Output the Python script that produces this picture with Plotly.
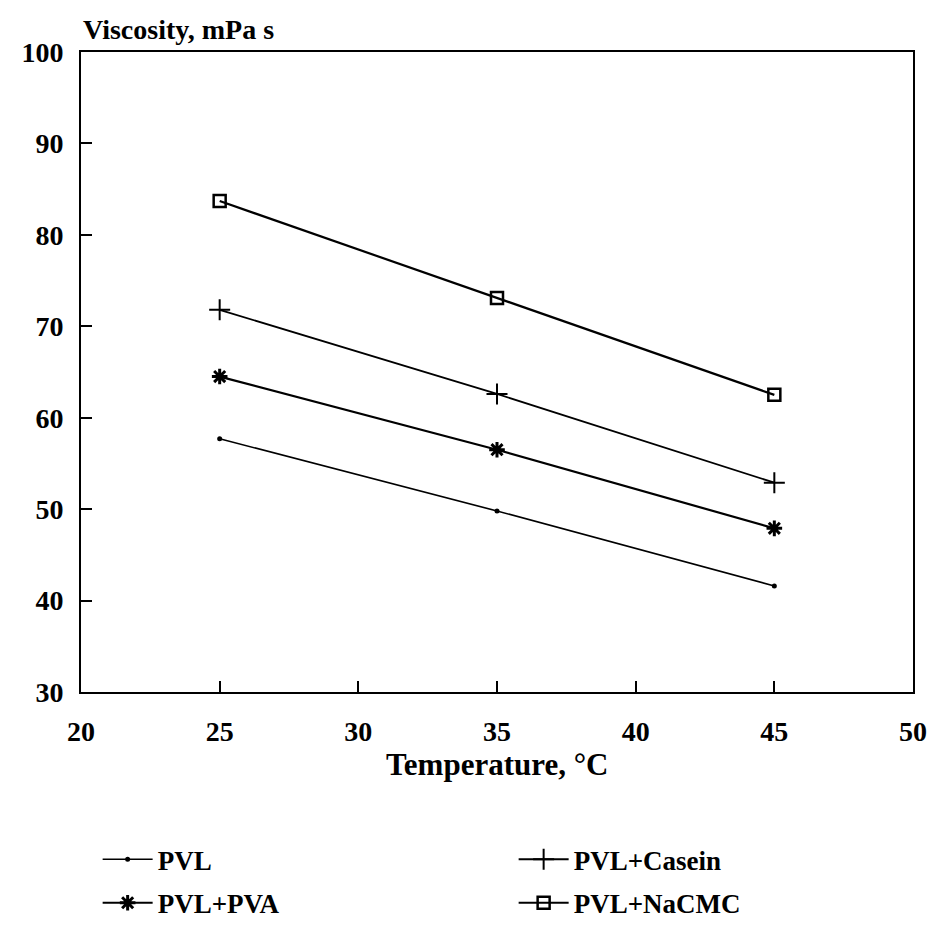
import plotly.graph_objects as go

# temperatures, deg C
temperature = [25, 35, 45]

# viscosity, mPa s
pvl = [57.7, 49.8, 41.6]
pvl_casein = [71.8, 62.6, 52.9]
pvl_pva = [64.5, 56.5, 47.9]
pvl_nacmc = [83.7, 73.1, 62.5]

x_ticks = [20, 25, 30, 35, 40, 45, 50]
y_ticks = [30, 40, 50, 60, 70, 80, 90, 100]

FONT = 'Liberation Serif'
ink = 'black'

trace1 = go.Scatter(x=temperature, y=pvl, name='PVL', mode='lines+markers',
                    line={'color': ink, 'width': 1.6},
                    marker={'symbol': 'circle', 'size': 5, 'color': ink},
                    legend='legend')

trace2 = go.Scatter(x=temperature, y=pvl_casein, name='PVL+Casein', mode='lines+markers',
                    line={'color': ink, 'width': 1.8},
                    marker={'symbol': 'cross-thin', 'size': 15, 'color': ink,
                            'line': {'color': ink, 'width': 2}},
                    legend='legend')

trace3 = go.Scatter(x=temperature, y=pvl_pva, name='PVL+PVA', mode='lines+markers',
                    line={'color': ink, 'width': 2.2},
                    marker={'symbol': 'asterisk', 'size': 13, 'color': ink,
                            'line': {'color': ink, 'width': 3}},
                    legend='legend2')

trace4 = go.Scatter(x=temperature, y=pvl_nacmc, name='PVL+NaCMC', mode='lines+markers',
                    line={'color': ink, 'width': 2.2},
                    marker={'symbol': 'square-open', 'size': 12, 'color': ink,
                            'line': {'color': ink, 'width': 2.5}},
                    legend='legend2')

data = [trace1, trace2, trace3, trace4]

axis_common = dict(showline=True, linecolor=ink, linewidth=2, mirror=True,
                   ticks='inside', ticklen=11, tickwidth=1.5, tickcolor=ink,
                   showgrid=False, zeroline=False,
                   tickfont={'family': FONT, 'size': 28, 'color': ink, 'weight': 'bold'})

legend_common = dict(orientation='h', xanchor='left', yanchor='middle', x=0.02,
                     entrywidth=351, entrywidthmode='pixels',
                     font={'family': FONT, 'size': 27, 'color': ink, 'weight': 'bold'},
                     itemwidth=50, bgcolor='rgba(0,0,0,0)')

layout = go.Layout(
    width=921, height=919,
    margin={'l': 73, 'r': 16, 't': 44, 'b': 235, 'autoexpand': False},
    paper_bgcolor='white', plot_bgcolor='white',
    font={'family': FONT, 'color': ink},
    xaxis=dict(axis_common, range=[20, 50], tickvals=x_ticks, ticklabelstandoff=13),
    yaxis=dict(axis_common, range=[30, 100], tickvals=y_ticks, ticklabelstandoff=10),
    showlegend=True,
    legend=dict(legend_common, y=-0.262),
    legend2=dict(legend_common, y=-0.330),
    annotations=[
        dict(text='Viscosity, mPa s', xref='paper', yref='paper', x=0.0, y=1.008,
             xanchor='left', yanchor='bottom', showarrow=False,
             font={'family': FONT, 'size': 28, 'color': ink, 'weight': 'bold'}),
        dict(text='Temperature, °C', xref='paper', yref='paper', x=0.5, y=-0.114,
             xanchor='center', yanchor='middle', showarrow=False,
             font={'family': FONT, 'size': 31, 'color': ink, 'weight': 'bold'}),
    ],
)

fig = go.Figure(data=data, layout=layout)
fig.write_html('out.html')
